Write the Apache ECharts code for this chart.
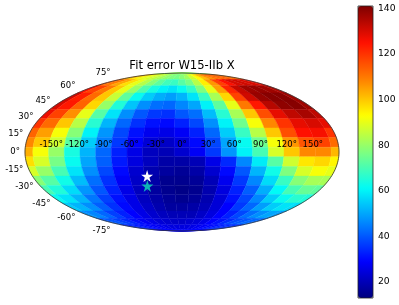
<!DOCTYPE html>
<html><head><meta charset="utf-8">
<script src="https://cdn.jsdelivr.net/npm/echarts@6/dist/echarts.min.js"></script>
<style>html,body{margin:0;padding:0;background:#fff}#c{width:399px;height:305px}</style>
</head><body><div id="c"></div>
<script>
const titleText = 'Fit error W15-IIb X';
const lonCenters = [-180,-162,-144,-126,-108,-90,-72,-54,-36,-18,0,18,36,54,72,90,108,126,144,162,180];
const latP90 = [80,80,80,80,80,80,80,80,80,80,80,80,80,80,80,80,80,80,80,80,80];
const latP81 = [105,100,95,90,88,85,82,79,77,76,78,81,87,93,100,106,110,112,114,112,110];
const latP72 = [115,110,104,97,90,84,78,73,69,68,72,76,84,95,106,118,125,130,131,130,127];
const latP63 = [125,118,110,100,90,80,71,64,60,58,62,67,77,90,105,122,132,137,138,137,135];
const latP54 = [131,123,112,100,86,73,62,55,51,49,52,58,68,82,98,118,131,138,140,140,137];
const latP45 = [130,124,113,98,80,65,54,47,43,42,46,50,60,73,90,110,124,134,139,140,137];
const latP36 = [127,118,107,90,72,58,47,40,36,35,40,43,53,66,82,100,116,128,133,136,133];
const latP27 = [120,112,100,84,66,52,42,35,31,30,33,38,47,60,75,92,108,120,128,130,128];
const latP18 = [113,105,92,78,60,48,38,31,27,26,28,33,42,55,68,84,100,116,125,126,120];
const latP09 = [108,100,87,72,55,45,36,29,24,22,25,30,38,50,62,75,92,106,115,118,112];
const lat000 = [103,92,80,64,52,42,33,26,21,20,23,28,36,48,60,70,88,100,108,108,102];
const latM09 = [97,88,76,62,50,41,32,25,21,18,18,20,26,34,46,59,72,87,96,98,94];
const latM18 = [88,80,70,58,47,38,30,23,19,17,16,18,23,30,40,52,63,77,88,92,90];
const latM27 = [78,72,63,53,43,35,28,22,18,15,15,16,20,27,36,46,57,68,78,82,82];
const latM36 = [70,65,57,48,40,33,26,21,17,15,14,15,19,25,33,41,51,61,70,74,73];
const latM45 = [62,58,52,44,37,31,26,21,18,16,15,16,19,24,31,38,46,55,62,66,65];
const latM54 = [55,52,47,41,35,30,26,22,19,17,17,18,20,24,29,36,42,49,55,58,57];
const latM63 = [48,46,42,37,33,29,26,23,21,20,20,20,22,25,29,33,38,43,47,50,49];
const latM72 = [41,40,37,34,31,28,26,24,23,22,22,23,24,26,29,31,34,38,40,42,42];
const latM81 = [35,34,33,31,30,28,27,26,25,25,25,25,26,27,28,30,31,33,34,35,35];
const latM90 = [29,29,29,29,29,29,29,29,29,29,29,29,29,29,29,29,29,29,29,29,29];
const latCenters = [90,81,72,63,54,45,36,27,18,9,0,-9,-18,-27,-36,-45,-54,-63,-72,-81,-90];
const errorRows = [latP90,latP81,latP72,latP63,latP54,latP45,latP36,latP27,latP18,latP09,lat000,latM09,latM18,latM27,latM36,latM45,latM54,latM63,latM72,latM81,latM90];
const lonTicks = [-150,-120,-90,-60,-30,0,30,60,90,120,150];
const latTicks = [75,60,45,30,15,0,-15,-30,-45,-60,-75];
const starLon = [-42,-44];
const starLat = [-22.5,-32];
const starColors = ['#ffffff','#0fb4b6'];
const barTicks = [20,40,60,80,100,120,140];
const barMin = 13, barMax = 141;
const jet = ['#00007f','#0000ff','#007fff','#00fbf7','#7fff7f','#ffff00','#ff7f00','#ff1000','#7f0000'];

const R2 = Math.SQRT2;
function moll(lon, lat){
  const phi = lat*Math.PI/180;
  let th = phi;
  if (Math.abs(lat) >= 90) th = Math.sign(lat)*Math.PI/2;
  else for (let i=0;i<60;i++){
    const f = 2*th+Math.sin(2*th)-Math.PI*Math.sin(phi);
    const d = 2+2*Math.cos(2*th);
    if (d<1e-9) break;
    th -= f/d;
  }
  return [2*R2/Math.PI*(lon*Math.PI/180)*Math.cos(th), R2*Math.sin(th)];
}
const cells = [];
errorRows.forEach((row,r)=>row.forEach((v,c)=>cells.push([lonCenters[c],latCenters[r],v])));

function renderCell(params, api){
  const lon=api.value(0), lat=api.value(1);
  const l0=Math.max(lon-9,-180), l1=Math.min(lon+9,180), b0=Math.max(lat-4.5,-90), b1=Math.min(lat+4.5,90);
  const pts=[]; const n=4;
  for(let i=0;i<=n;i++) pts.push(api.coord(moll(l0+(l1-l0)*i/n,b1)));
  for(let i=0;i<=n;i++) pts.push(api.coord(moll(l1,b1+(b0-b1)*i/n)));
  for(let i=0;i<=n;i++) pts.push(api.coord(moll(l1+(l0-l1)*i/n,b0)));
  for(let i=0;i<=n;i++) pts.push(api.coord(moll(l0,b0+(b1-b0)*i/n)));
  const col=api.visual('color');
  return {type:'polygon',shape:{points:pts},style:{fill:col,stroke:col,lineWidth:0.4}};
}
function renderOutline(params, api){
  const pts=[];
  for(let a=-90;a<=90;a+=2) pts.push(api.coord(moll(180,a)));
  for(let a=90;a>=-90;a-=2) pts.push(api.coord(moll(-180,a)));
  return {type:'polygon',shape:{points:pts},style:{fill:'none',stroke:'#333',lineWidth:0.8}};
}
const font='"DejaVu Sans"';
const chart=echarts.init(document.getElementById('c'),null,{renderer:'canvas'});
chart.setOption({
  animation:false,
  backgroundColor:'#fff',
  title:{text:titleText,left:182,top:60,textAlign:'center',padding:0,textStyle:{fontFamily:font,fontSize:11.6,fontWeight:'normal',color:'#000',lineHeight:12}},
  grid:[
    {left:25,width:314,top:73,height:158,show:false},
    {left:358,width:15,top:6,height:292,show:true,z:10,backgroundColor:'transparent',borderColor:'#222',borderWidth:0.8}
  ],
  xAxis:[
    {type:'value',gridIndex:0,min:-2*R2,max:2*R2,show:false},
    {type:'value',gridIndex:1,min:0,max:1,show:false}
  ],
  yAxis:[
    {type:'value',gridIndex:0,min:-R2,max:R2,show:false},
    {type:'value',gridIndex:1,min:barMin,max:barMax,position:'right',
     axisLine:{show:false},splitLine:{show:false},
     axisTick:{show:true,length:3,customValues:barTicks,lineStyle:{color:'#000',width:0.8}},
     axisLabel:{show:true,customValues:barTicks,margin:5,fontFamily:font,fontSize:9.2,color:'#000'}}
  ],
  visualMap:{type:'continuous',seriesIndex:0,dimension:2,min:barMin,max:barMax,left:358,top:6,itemWidth:15,itemHeight:292,padding:0,text:null,calculable:false,realtime:false,inRange:{color:jet},textStyle:{fontSize:0}},
  series:[
    {type:'custom',xAxisIndex:0,yAxisIndex:0,data:cells,renderItem:renderCell,encode:{x:0,y:1},clip:false,silent:true,z:2},
    {type:'custom',xAxisIndex:0,yAxisIndex:0,data:[[0,0]],renderItem:renderOutline,encode:{x:0,y:1},clip:false,silent:true,z:3},
    {type:'scatter',xAxisIndex:0,yAxisIndex:0,symbolSize:0,z:5,silent:true,
     data:lonTicks.map(l=>({value:moll(l,0),name:l+'°'})),
     label:{show:true,position:'inside',offset:[0,-7],formatter:'{b}',fontFamily:font,fontSize:8.5,color:'#000',opacity:1,textBorderWidth:0}},
    {type:'scatter',xAxisIndex:0,yAxisIndex:0,symbolSize:0,z:5,silent:true,
     data:latTicks.map(a=>{const p=moll(-180,a);return {value:[p[0],p[1]*1.1],name:a+'°'};}),
     label:{show:true,position:'left',distance:5,formatter:'{b}',fontFamily:font,fontSize:8.5,color:'#000',opacity:1}},
    {type:'scatter',xAxisIndex:0,yAxisIndex:0,z:6,silent:true,symbol:'path://M50 0 L61.8 36.3 L100 36.3 L69.1 58.8 L80.9 95.1 L50 72.6 L19.1 95.1 L30.9 58.8 L0 36.3 L38.2 36.3 Z',symbolSize:12,
     itemStyle:{opacity:1},
     data:starLon.map((l,i)=>({value:moll(l,starLat[i]),itemStyle:{color:starColors[i],opacity:1}}))}
  ]
});
</script></body></html>
